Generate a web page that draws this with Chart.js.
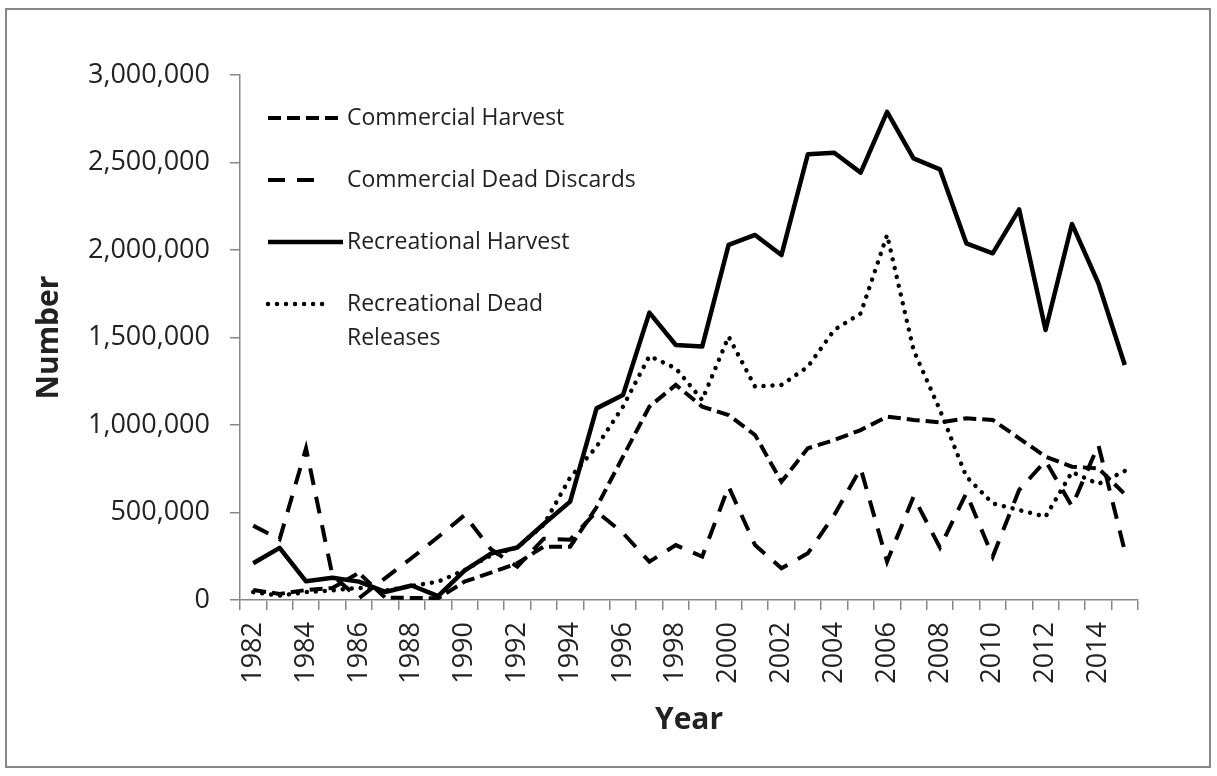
<!DOCTYPE html>
<html lang="en">
<head>
<meta charset="UTF-8">
<title>Number by Year</title>
<script src="https://cdn.jsdelivr.net/npm/chart.js"></script>
<style>
  body { margin: 0; background: #fff; }
  #wrap { width: 1217px; height: 776px; }
</style>
</head>
<body>
<div id="wrap"><canvas id="chart"></canvas></div>
<script>
// data
const years = ['1982','1983','1984','1985','1986','1987','1988','1989','1990','1991',
  '1992','1993','1994','1995','1996','1997','1998','1999','2000','2001','2002','2003',
  '2004','2005','2006','2007','2008','2009','2010','2011','2012','2013','2014','2015'];

const commercialHarvest = [57000, 35000, 57000, 69000, 155000, 13000, 12000, 10000, 105000, 156000,
  210000, 305000, 305000, 530000, 819000, 1105000, 1229000, 1105000, 1057000, 943000, 676000, 867000,
  914000, 971000, 1048000, 1029000, 1015000, 1038000, 1029000, 924000, 819000, 762000, 752000, 605000];

const commercialDiscards = [425000, 347000, 867000, 140000, 10000, 125000, 240000, 360000, 485000, 290000,
  190000, 350000, 345000, 505000, 383000, 219000, 314000, 248000, 648000, 314000, 181000, 267000,
  486000, 752000, 220000, 590000, 300000, 610000, 248000, 629000, 795000, 535000, 886000, 280000];

const recreationalHarvest = [210000, 298000, 107000, 127000, 105000, 46000, 83000, 22000, 168000, 265000,
  300000, 434000, 562000, 1095000, 1171000, 1642000, 1457000, 1448000, 2029000, 2086000, 1971000, 2547000,
  2556000, 2442000, 2789000, 2524000, 2461000, 2038000, 1981000, 2232000, 1543000, 2149000, 1810000, 1343000];

const recreationalReleases = [45000, 25000, 45000, 55000, 70000, 53000, 80000, 105000, 170000, 255000,
  300000, 430000, 700000, 876000, 1105000, 1394000, 1324000, 1143000, 1505000, 1219000, 1229000, 1333000,
  1543000, 1638000, 2086000, 1429000, 1086000, 705000, 552000, 514000, 476000, 731000, 663000, 737000];

const legendLines = [
  ['Commercial Harvest'],
  ['Commercial Dead Discards'],
  ['Recreational Harvest'],
  ['Recreational Dead', 'Releases']
];

const axisGray = '#878787';
const textColor = '#222';
const font = '"Open Sans", "DejaVu Sans", sans-serif';

// frame round the picture + the legend inside the plot
const frameAndLegend = {
  id: 'frameAndLegend',
  beforeDraw(chart) {
    const ctx = chart.ctx;
    ctx.save();
    ctx.fillStyle = '#fff';
    ctx.fillRect(0, 0, chart.width, chart.height);
    ctx.strokeStyle = axisGray;
    ctx.lineWidth = 2;
    ctx.strokeRect(6, 9, 1204, 758);
    ctx.restore();
  },
  afterDraw(chart) {
    const ctx = chart.ctx;
    const sampleEnd = [343, 316, 343, 330];
    ctx.save();
    chart.data.datasets.forEach((ds, i) => {
      const y = 118 + i * 62;
      ctx.strokeStyle = '#000';
      ctx.lineWidth = ds.borderWidth;
      ctx.lineCap = ds.borderCapStyle || 'butt';
      ctx.setLineDash(ds.borderDash || []);
      ctx.beginPath();
      ctx.moveTo(268, y);
      ctx.lineTo(sampleEnd[i], y);
      ctx.stroke();
      ctx.setLineDash([]);
      ctx.fillStyle = textColor;
      ctx.font = '23px ' + font;
      ctx.textBaseline = 'middle';
      legendLines[i].forEach((t, k) => ctx.fillText(t, 347, y + k * 34));
    });
    ctx.restore();
  }
};

new Chart(document.getElementById('chart'), {
  type: 'line',
  data: {
    labels: years,
    datasets: [
      {
        label: 'Commercial Harvest',
        data: commercialHarvest,
        borderColor: '#000',
        borderWidth: 4,
        borderDash: [13, 6]
      },
      {
        label: 'Commercial Dead Discards',
        data: commercialDiscards,
        borderColor: '#000',
        borderWidth: 4,
        borderDash: [17, 12]
      },
      {
        label: 'Recreational Harvest',
        data: recreationalHarvest,
        borderColor: '#000',
        borderWidth: 4.5,
        borderJoinStyle: 'round'
      },
      {
        label: 'Recreational Dead Releases',
        data: recreationalReleases,
        borderColor: '#000',
        borderWidth: 4.5,
        borderDash: [0.01, 9],
        borderCapStyle: 'round'
      }
    ]
  },
  options: {
    responsive: true,
    maintainAspectRatio: false,
    animation: false,
    elements: { point: { radius: 0 }, line: { tension: 0 } },
    layout: { padding: { top: 75, right: 79, left: 0, bottom: 0 } },
    plugins: {
      legend: { display: false },
      tooltip: { enabled: false }
    },
    scales: {
      x: {
        type: 'category',
        offset: true,
        afterFit(scale) { scale.height = 176; },
        border: { color: axisGray, width: 1.5 },
        grid: { offset: true, drawOnChartArea: false, drawTicks: true, tickLength: 10, color: axisGray, lineWidth: 1.5 },
        ticks: {
          autoSkip: false,
          minRotation: 90,
          maxRotation: 90,
          padding: 12,
          color: textColor,
          font: { family: font, size: 27 },
          callback(value, index) { return index % 2 === 0 ? this.getLabelForValue(value) : ''; }
        },
        title: {
          display: true,
          text: 'Year',
          color: textColor,
          font: { family: font, size: 30, weight: 'bold' },
          padding: { top: 0, bottom: 38 }
        }
      },
      y: {
        min: 0,
        max: 3000000,
        afterFit(scale) { scale.width = 240; },
        border: { color: axisGray, width: 1.5 },
        grid: { drawOnChartArea: false, drawTicks: true, tickLength: 10, color: axisGray, lineWidth: 1.5 },
        ticks: {
          stepSize: 500000,
          padding: 20,
          color: textColor,
          font: { family: font, size: 27 },
          callback(value) { return value.toLocaleString('en-US'); }
        },
        title: {
          display: true,
          text: 'Number',
          color: textColor,
          font: { family: font, size: 30, weight: 'bold' },
          padding: { top: 31, bottom: 0 }
        }
      }
    }
  },
  plugins: [frameAndLegend]
});
</script>
</body>
</html>
